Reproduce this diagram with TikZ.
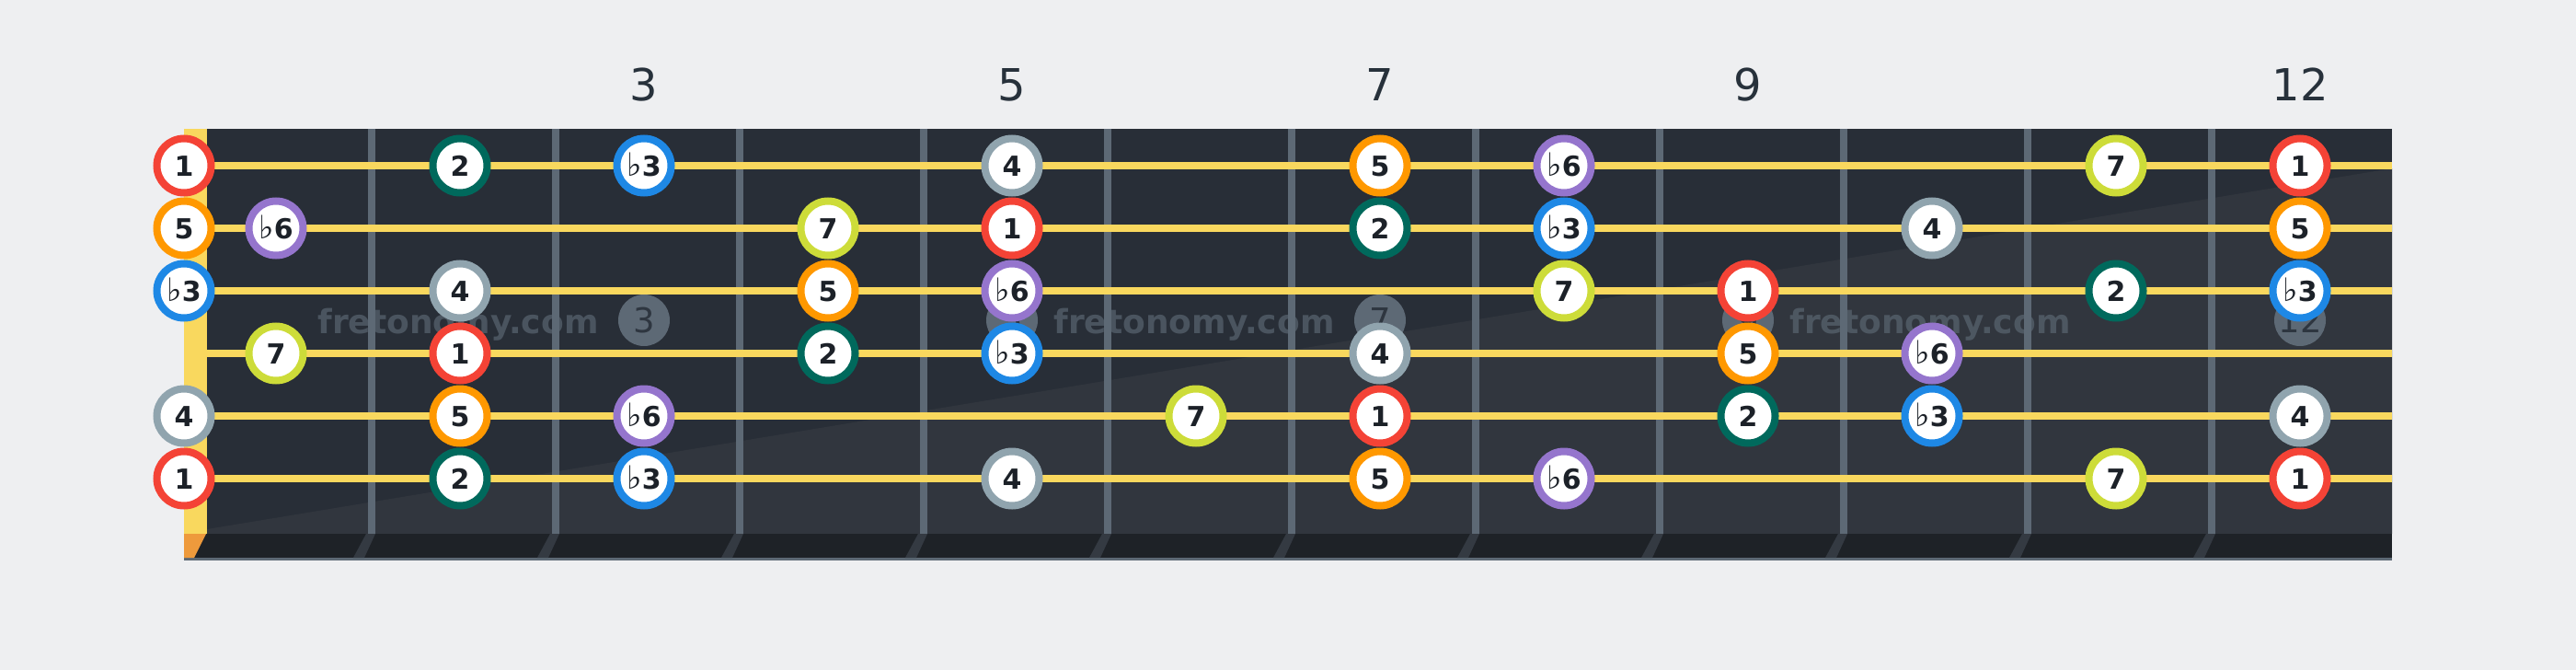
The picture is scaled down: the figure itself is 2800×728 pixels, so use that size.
\documentclass[tikz,border=0pt]{standalone}
\usepackage{fontspec}
\setmainfont{DejaVu Sans}
\definecolor{bg}{HTML}{EEEFF1}
\definecolor{board}{HTML}{282E37}
\definecolor{boardlight}{HTML}{31363E}
\definecolor{fretc}{HTML}{5D6975}
\definecolor{stringc}{HTML}{F9D85E}
\definecolor{strip}{HTML}{1E2227}
\definecolor{stripfret}{HTML}{343A42}
\definecolor{nutbot}{HTML}{EE9A3C}
\definecolor{labelc}{HTML}{27313B}
\definecolor{notetext}{HTML}{1C2128}
\definecolor{inlaytext}{HTML}{2E3640}
\definecolor{c1}{HTML}{F44336}
\definecolor{c2}{HTML}{00695C}
\definecolor{cb3}{HTML}{1E88E5}
\definecolor{c4}{HTML}{90A4AE}
\definecolor{c5}{HTML}{FF9800}
\definecolor{cb6}{HTML}{9575CD}
\definecolor{c7}{HTML}{CDDC39}
\newcommand{\flatsign}{{\fontsize{35}{35}\selectfont\mdseries ♭}}
\expandafter\def\csname lab1\endcsname{1}
\expandafter\def\csname lab2\endcsname{2}
\expandafter\def\csname labb3\endcsname{\flatsign3}
\expandafter\def\csname lab4\endcsname{4}
\expandafter\def\csname lab5\endcsname{5}
\expandafter\def\csname labb6\endcsname{\flatsign6}
\expandafter\def\csname lab7\endcsname{7}
\tikzset{
  note/.style={circle, fill=white, line width=8pt, minimum size=59pt, inner sep=0pt,
    font=\fontsize{30}{30}\selectfont\bfseries, text=notetext, text height=22pt, text depth=0pt},
  inlay/.style={circle, fill=fretc, minimum size=56pt, inner sep=0pt,
    font=\fontsize{37}{37}\selectfont, text=inlaytext, text height=27pt, text depth=0pt},
  fretlabel/.style={anchor=base, font=\fontsize{48}{48}\selectfont, text=labelc, inner sep=0pt},
  watermark/.style={anchor=base, font=\fontsize{36}{36}\selectfont\bfseries, text=fretc, text opacity=0.65, inner sep=0pt},
  deg1/.style={draw=c1}, deg2/.style={draw=c2}, degb3/.style={draw=cb3}, deg4/.style={draw=c4},
  deg5/.style={draw=c5}, degb6/.style={draw=cb6}, deg7/.style={draw=c7}
}
\begin{document}
\begin{tikzpicture}[x=1pt,y=-1pt]
\useasboundingbox (0,0) rectangle (2800,728);
\fill[bg] (0,0) rectangle (2800,728);
% board
\fill[board] (200,140) rectangle (2600,580);
\fill[boardlight] (225,575) -- (2600,183) -- (2600,580) -- (225,580) -- cycle;
\fill[strip] (200,580) rectangle (2600,608);
\fill[fretc] (200,606) rectangle (2600,609);
% frets
\foreach \i in {1,...,11} {
  \pgfmathsetmacro\xa{200+200*\i}
  \pgfmathsetmacro\xb{208+200*\i}
  \fill[fretc] (\xa,140) rectangle (\xb,580);
  \fill[stripfret] (\xa-2,580) -- (\xb,580) -- (\xb-12,606) -- (\xa-16,606) -- cycle;
}
% nut
\fill[stringc] (200,140) rectangle (225,580);
\fill[nutbot] (200,580) -- (224,580) -- (211,606) -- (200,606) -- cycle;
% strings
\foreach \s in {1,...,6} {
  \pgfmathsetmacro\yy{180+68*(\s-1)}
  \fill[stringc] (225,\yy-4) rectangle (2600,\yy+4);
}
% fret labels
\foreach \f/\x in {3/700,5/1100,7/1500,9/1900,12/2500} {
  \node[fretlabel] (lab\f) at (\x,109) {\f};
}
% inlays
\foreach \f/\x in {3/700,5/1100,7/1500,9/1900,12/2500} {
  \node[inlay] (inlay\f) at (\x,348) {\f};
}
% watermarks
\foreach \x [count=\k] in {498,1298,2098} {
  \node[watermark] (wm\k) at (\x,362) {fretonomy.com};
}
% notes
\foreach \s/\f/\d in {
  1/0/1, 1/2/2, 1/3/b3, 1/5/4, 1/7/5, 1/8/b6, 1/11/7, 1/12/1,
  2/0/5, 2/1/b6, 2/4/7, 2/5/1, 2/7/2, 2/8/b3, 2/10/4, 2/12/5,
  3/0/b3, 3/2/4, 3/4/5, 3/5/b6, 3/8/7, 3/9/1, 3/11/2, 3/12/b3,
  4/1/7, 4/2/1, 4/4/2, 4/5/b3, 4/7/4, 4/9/5, 4/10/b6,
  5/0/4, 5/2/5, 5/3/b6, 5/6/7, 5/7/1, 5/9/2, 5/10/b3, 5/12/4,
  6/0/1, 6/2/2, 6/3/b3, 6/5/4, 6/7/5, 6/8/b6, 6/11/7, 6/12/1} {
  \pgfmathsetmacro\xx{\f==0 ? 200 : 100+200*\f}
  \pgfmathsetmacro\yy{180+68*(\s-1)}
  \node[note, deg\d] (n\s-\f) at (\xx,\yy) {\csname lab\d\endcsname};
}
\end{tikzpicture}
\end{document}
